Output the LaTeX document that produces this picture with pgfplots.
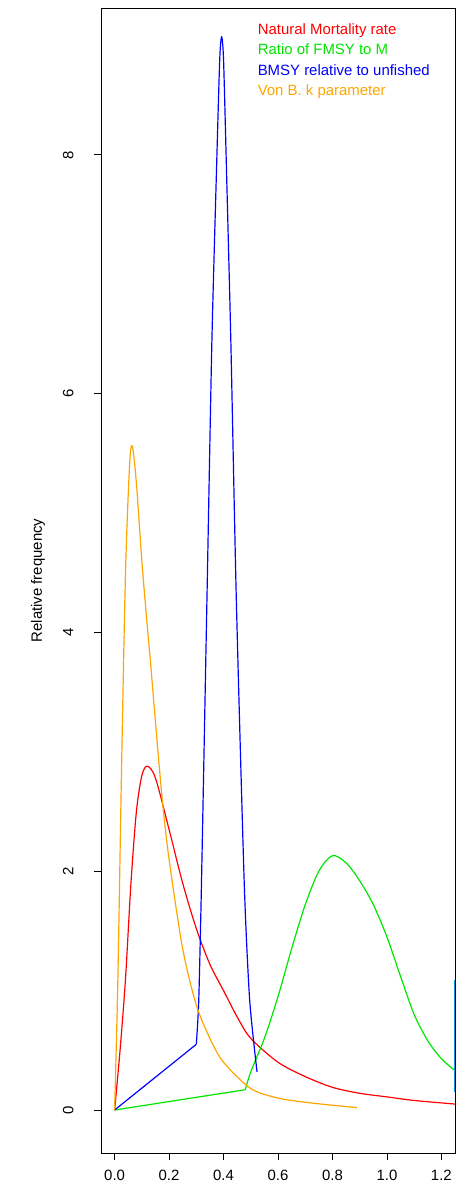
\documentclass[border=0pt]{standalone}
\usepackage{pgfplots}
\pgfplotsset{compat=1.18}
\usepackage{fontspec}
\setmainfont{Liberation Sans}
\definecolor{rgreen}{RGB}{0,230,0}
\definecolor{rorange}{RGB}{255,165,0}
\definecolor{rcyan}{RGB}{20,150,230}
\begin{document}
\begin{tikzpicture}
\begin{axis}[
  at={(0,0)}, anchor=south west, scale only axis,
  width=354bp, height=1145bp,
  xmin=-0.05, xmax=1.25, ymin=-0.36, ymax=9.23,
  axis line style={line width=0.8pt},
  tick align=outside, tick style={black, line width=0.8pt, major tick length=7bp},
  xtick={0,0.2,...,1.2}, ytick={0,2,4,6,8},
  xtick pos=bottom, ytick pos=left,
  /pgf/number format/assume math mode=true,
  xticklabel style={/pgf/number format/fixed,/pgf/number format/fixed zerofill,/pgf/number format/precision=1, font=\fontsize{15}{17}\selectfont, yshift=-7bp},
  yticklabel shift=17bp,
  yticklabel style={rotate=90, anchor=south, font=\fontsize{15}{17}\selectfont},
  ylabel={Relative frequency},
  every axis y label/.style={at={(axis description cs:0,0.5)}, xshift=-63bp, rotate=90, anchor=center, font=\fontsize{15}{17}\selectfont},
  clip=true,
  every axis plot/.append style={line width=1.2pt, line join=round}
]
\addplot[red, smooth, tension=0.5] coordinates {(0,0)(0.02,0.5)(0.04,1.1)(0.06,1.9)(0.08,2.5)(0.1,2.8)(0.12,2.88)(0.15,2.78)(0.2,2.35)(0.25,1.9)(0.3,1.52)(0.35,1.22)(0.4,1.0)(0.45,0.78)(0.5,0.6)(0.6,0.4)(0.7,0.28)(0.8,0.19)(0.9,0.14)(1.0,0.11)(1.1,0.08)(1.25,0.05)};
\addplot[rgreen] coordinates {(0,0)(0.48,0.17)};
\addplot[rgreen, smooth, tension=0.5] coordinates {(0.48,0.17)(0.5,0.32)(0.55,0.6)(0.6,0.95)(0.65,1.35)(0.7,1.72)(0.75,2.0)(0.8,2.13)(0.85,2.07)(0.9,1.92)(0.95,1.72)(1.0,1.45)(1.05,1.12)(1.1,0.8)(1.15,0.58)(1.2,0.43)(1.25,0.33)};
\addplot[blue] coordinates {(0,0)(0.3,0.55)};
\addplot[blue, smooth, tension=0.4] coordinates {(0.3,0.55)(0.309,0.92)(0.319,1.9)(0.339,4.27)(0.357,6.42)(0.374,7.86)(0.386,8.8)(0.393,8.99)(0.4,8.8)(0.411,7.86)(0.427,6.42)(0.447,4.27)(0.476,1.9)(0.496,0.92)(0.523,0.32)};
\addplot[rorange, smooth, tension=0.5] coordinates {(0,0)(0.012,1.1)(0.025,2.8)(0.04,4.5)(0.055,5.4)(0.065,5.56)(0.08,5.25)(0.1,4.6)(0.12,4.05)(0.13,3.8)(0.15,3.25)(0.175,2.6)(0.2,2.1)(0.25,1.35)(0.3,0.88)(0.35,0.6)(0.4,0.4)(0.5,0.18)(0.6,0.1)(0.7,0.065)(0.8,0.04)(0.89,0.02)};
\addplot[rcyan, line width=1pt] coordinates {(1.2485,0.15)(1.2485,1.09)};
\node[anchor=north west, align=left, inner sep=0pt, font=\fontsize{15}{20.5}\selectfont] at (axis cs:0.525,9.1) {\textcolor{red}{Natural Mortality rate}\\\textcolor{rgreen}{Ratio of FMSY to M}\\\textcolor{blue}{BMSY relative to unfished}\\\textcolor{rorange}{Von B. k parameter}};
\end{axis}
\path[use as bounding box] (-101bp,-41bp) rectangle (356bp,1153bp);
\end{tikzpicture}
\end{document}
